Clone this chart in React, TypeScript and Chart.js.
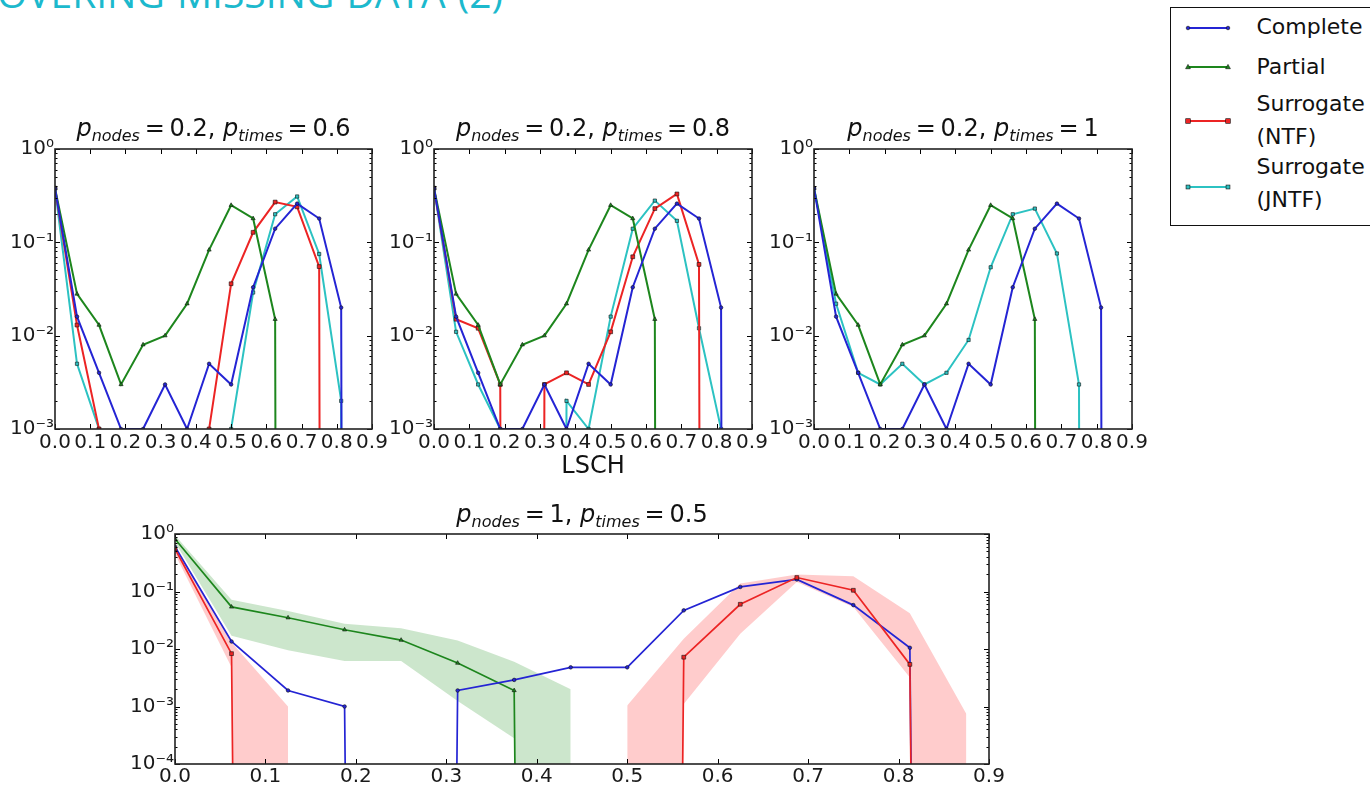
import React, { useEffect, useRef } from 'react';
import { Chart, registerables } from 'chart.js';

Chart.register(...registerables);
Chart.defaults.font.family = '"DejaVu Sans", sans-serif';

// ---------------- data ----------------
const LSCH_BINS = [0, 0.0625, 0.125, 0.1875, 0.25, 0.3125, 0.375, 0.4375, 0.5, 0.5625, 0.625, 0.6875, 0.75, 0.8125, 0.875];
const X_TICKS = [0, 0.1, 0.2, 0.3, 0.4, 0.5, 0.6, 0.7, 0.8, 0.9];
const X_TICK_LABELS = ['0.0', '0.1', '0.2', '0.3', '0.4', '0.5', '0.6', '0.7', '0.8', '0.9'];
const Y_TICKS_TOP = [0.001, 0.01, 0.1, 1];
const Y_TICK_LABELS_TOP = ['10⁻³', '10⁻²', '10⁻¹', '10⁰'];
const Y_TICKS_BOTTOM = [0.0001, 0.001, 0.01, 0.1, 1];
const Y_TICK_LABELS_BOTTOM = ['10⁻⁴', '10⁻³', '10⁻²', '10⁻¹', '10⁰'];

const SERIES_NAMES = ['Complete', 'Partial', 'Surrogate\n(NTF)', 'Surrogate\n(JNTF)'];
const PANEL_P_NODES = ['0.2', '0.2', '0.2', '1'];
const PANEL_P_TIMES = ['0.6', '0.8', '1', '0.5'];
const X_AXIS_TITLE = 'LSCH';
const PAGE_TITLE = 'RECOVERING MISSING DATA (2)';

// top row (0 = empty bin)
const COMPLETE_TOP = [0.38, 0.016, 0.004, 0.001, 0.001, 0.003, 0.001, 0.005, 0.003, 0.033, 0.14, 0.26, 0.18, 0.02, 0];
const PARTIAL_TOP = [0.38, 0.028, 0.013, 0.003, 0.008, 0.01, 0.022, 0.083, 0.25, 0.18, 0.015, 0, 0, 0, 0];
const NTF_T06 = [0.38, 0.013, 0.001, 0, 0, 0, 0, 0.001, 0.036, 0.128, 0.27, 0.24, 0.055, 0, 0];
const JNTF_T06 = [0.38, 0.005, 0.001, 0, 0, 0, 0, 0, 0.001, 0.029, 0.2, 0.31, 0.075, 0.002, 0];
const NTF_T08 = [0.38, 0.015, 0.012, 0.003, 0, 0.003, 0.004, 0.003, 0.011, 0.07, 0.23, 0.33, 0.058, 0, 0];
const JNTF_T08 = [0.38, 0.011, 0.003, 0.001, 0, 0, 0.002, 0.001, 0.016, 0.14, 0.28, 0.17, 0.012, 0.001, 0];
const JNTF_T10 = [0.38, 0.022, 0.004, 0.003, 0.005, 0.003, 0.004, 0.009, 0.054, 0.2, 0.23, 0.076, 0.003, 0, 0];

// bottom panel
const COMPLETE_BOTTOM = [0.6, 0.0135, 0.0019, 0.001, 0, 0.0019, 0.0029, 0.0048, 0.0048, 0.047, 0.12, 0.162, 0.058, 0.0105, 0];
const PARTIAL_BOTTOM = [0.82, 0.054, 0.035, 0.0216, 0.0143, 0.0057, 0.0019, 0, 0, 0, 0, 0, 0, 0, 0];
const PARTIAL_BOTTOM_HIGH = [0.95, 0.072, 0.046, 0.0275, 0.023, 0.014, 0.006, 0.002, null, null, null, null, null, null, null];
const PARTIAL_BOTTOM_LOW = [0.72, 0.017, 0.0095, 0.0062, 0.0062, 0.00125, 0.00028, 0, null, null, null, null, null, null, null];
const NTF_BOTTOM = [0.55, 0.0083, 0, 0, 0, 0, 0, 0, 0, 0.0072, 0.06, 0.175, 0.105, 0.0054, 0];
const NTF_BOTTOM_HIGH = [0.65, 0.013, 0.001, null, null, null, null, null, 0.00104, 0.015, 0.138, 0.198, 0.185, 0.042, 0.00074];
const NTF_BOTTOM_LOW = [0.45, 0.0048, 0, null, null, null, null, null, 0, 0.0011, 0.0185, 0.147, 0.054, 0.0032, 0];

// ---------------- styles ----------------
const LOG_ZERO = 1e-100; // stand-in for an empty bin on the log axis
const STYLES = [
  { color: '#2424d4', pointStyle: 'circle', radius: 1.8 },
  { color: '#1d861d', pointStyle: 'triangle', radius: 2.4 },
  { color: '#ec2424', pointStyle: 'rect', radius: 2.7 },
  { color: '#2cc2c2', pointStyle: 'rect', radius: 2.3 },
];
const GREEN_BAND = 'rgba(0,128,0,0.2)';
const RED_BAND = 'rgba(255,0,0,0.2)';

const toPoints = (values: (number | null)[]) =>
  LSCH_BINS.map((x, i) => ({ x, y: values[i] == null ? null : values[i]! > 0 ? values[i] : LOG_ZERO }));

function lineDataset(seriesIndex: number, values: (number | null)[], width = 2) {
  const s = STYLES[seriesIndex];
  return {
    label: SERIES_NAMES[seriesIndex],
    data: toPoints(values),
    borderColor: s.color,
    borderWidth: width,
    pointStyle: s.pointStyle,
    pointRadius: s.radius,
    pointBackgroundColor: s.color,
    pointBorderColor: '#111',
    pointBorderWidth: 0.6,
    fill: false,
    tension: 0,
  };
}

function bandDatasets(high: (number | null)[], low: (number | null)[], color: string) {
  return [
    { label: 'band-high', data: toPoints(high), borderColor: 'rgba(0,0,0,0)', borderWidth: 0, pointRadius: 0, fill: '+1', backgroundColor: color, tension: 0 },
    { label: 'band-low', data: toPoints(low), borderColor: 'rgba(0,0,0,0)', borderWidth: 0, pointRadius: 0, fill: false, tension: 0 },
  ];
}

const YW = 55; // y axis width
const PR = 26; // right padding

const PANELS = [
  {
    plot: { left: 55, top: 149, right: 372, bottom: 429 }, canvasTop: 100, xAxisHeight: 50, titleBaseline: 136,
    yMin: 0.001, yTicks: Y_TICKS_TOP, yLabels: Y_TICK_LABELS_TOP, xTitle: false, bottom: false,
    datasets: () => [lineDataset(0, COMPLETE_TOP), lineDataset(1, PARTIAL_TOP), lineDataset(2, NTF_T06), lineDataset(3, JNTF_T06)],
  },
  {
    plot: { left: 434, top: 149, right: 752, bottom: 429 }, canvasTop: 100, xAxisHeight: 50, titleBaseline: 136,
    yMin: 0.001, yTicks: Y_TICKS_TOP, yLabels: Y_TICK_LABELS_TOP, xTitle: true, bottom: false,
    datasets: () => [lineDataset(0, COMPLETE_TOP), lineDataset(1, PARTIAL_TOP), lineDataset(2, NTF_T08), lineDataset(3, JNTF_T08)],
  },
  {
    plot: { left: 814, top: 149, right: 1132, bottom: 429 }, canvasTop: 100, xAxisHeight: 50, titleBaseline: 136,
    yMin: 0.001, yTicks: Y_TICKS_TOP, yLabels: Y_TICK_LABELS_TOP, xTitle: false, bottom: false,
    datasets: () => [lineDataset(0, COMPLETE_TOP), lineDataset(1, PARTIAL_TOP), lineDataset(3, JNTF_T10)],
  },
  {
    plot: { left: 175, top: 534, right: 989, bottom: 764 }, canvasTop: 480, xAxisHeight: 21, titleBaseline: 522,
    yMin: 0.0001, yTicks: Y_TICKS_BOTTOM, yLabels: Y_TICK_LABELS_BOTTOM, xTitle: false, bottom: true,
    datasets: () => [
      lineDataset(2, NTF_BOTTOM, 1.7),
      lineDataset(0, COMPLETE_BOTTOM, 1.7),
      lineDataset(1, PARTIAL_BOTTOM, 1.7),
      ...bandDatasets(NTF_BOTTOM_HIGH, NTF_BOTTOM_LOW, RED_BAND),
      ...bandDatasets(PARTIAL_BOTTOM_HIGH, PARTIAL_BOTTOM_LOW, GREEN_BAND),
    ],
  },
];

function drawMathTitle(ctx: CanvasRenderingContext2D, cx: number, baseline: number, size: number, nodes: string, times: string) {
  const fam = '"DejaVu Sans", sans-serif';
  const sub = Math.round(size * 0.68);
  const parts = [
    { t: 'p', f: `italic ${size}px ${fam}`, dy: 0 },
    { t: 'nodes', f: `italic ${sub}px ${fam}`, dy: size * 0.2 },
    { t: '\u2009=\u2009' + nodes + ', ', f: `${size}px ${fam}`, dy: 0 },
    { t: 'p', f: `italic ${size}px ${fam}`, dy: 0 },
    { t: 'times', f: `italic ${sub}px ${fam}`, dy: size * 0.2 },
    { t: '\u2009=\u2009' + times, f: `${size}px ${fam}`, dy: 0 },
  ];
  let total = 0;
  const widths = parts.map((p) => {
    ctx.font = p.f;
    const w = ctx.measureText(p.t).width;
    total += w;
    return w;
  });
  let x = cx - total / 2;
  ctx.fillStyle = '#111';
  ctx.textAlign = 'left';
  ctx.textBaseline = 'alphabetic';
  parts.forEach((p, i) => {
    ctx.font = p.f;
    ctx.fillText(p.t, x, baseline + p.dy);
    x += widths[i];
  });
}

const framePlugin = {
  id: 'frame',
  afterDraw(chart: any, _args: any, opts: any) {
    const { ctx, chartArea: a, scales } = chart;
    ctx.save();
    ctx.strokeStyle = '#000';
    ctx.lineWidth = 1;
    const seg = (x1: number, y1: number, x2: number, y2: number) => {
      ctx.beginPath();
      ctx.moveTo(x1, y1);
      ctx.lineTo(x2, y2);
      ctx.stroke();
    };
    for (const v of X_TICKS) {
      const px = Math.round(scales.x.getPixelForValue(v)) + 0.5;
      seg(px, a.bottom, px, a.bottom - 5);
      seg(px, a.top, px, a.top + 5);
    }
    for (const v of opts.yTicks) {
      const py = Math.round(scales.y.getPixelForValue(v)) + 0.5;
      seg(a.left, py, a.left + 5, py);
      seg(a.right, py, a.right - 5, py);
      if (v < 1) {
        for (let m = 2; m <= 9; m++) {
          const pm = Math.round(scales.y.getPixelForValue(v * m)) + 0.5;
          seg(a.left, pm, a.left + 2.5, pm);
          seg(a.right, pm, a.right - 2.5, pm);
        }
      }
    }
    ctx.lineWidth = 1.6;
    ctx.strokeStyle = '#222';
    ctx.strokeRect(a.left, a.top, a.right - a.left, a.bottom - a.top);
    drawMathTitle(ctx, (a.left + a.right) / 2, opts.titleY, opts.titleSize, opts.nodes, opts.times);
    if (opts.xTitle) {
      ctx.font = '24px "DejaVu Sans", sans-serif';
      ctx.fillStyle = '#111';
      ctx.textAlign = 'center';
      ctx.textBaseline = 'alphabetic';
      ctx.fillText(X_AXIS_TITLE, (a.left + a.right) / 2, opts.xTitleY);
    }
    ctx.restore();
  },
};

function Panel({ index }: { index: number }) {
  const panel = PANELS[index];
  const ref = useRef<HTMLCanvasElement>(null);
  const left = panel.plot.left - YW;
  const width = panel.plot.right - panel.plot.left + YW + PR;
  const height = panel.plot.bottom - panel.canvasTop + panel.xAxisHeight;
  useEffect(() => {
    const findLabel = (ticks: number[], labels: string[], v: number) => {
      const i = ticks.findIndex((t) => Math.abs(t - v) < 1e-9 || Math.abs(Math.log10(t) - Math.log10(v)) < 1e-6);
      return i >= 0 ? labels[i] : '';
    };
    const chart = new Chart(ref.current!, {
      type: 'line',
      data: { datasets: panel.datasets() as any },
      options: {
        animation: false,
        responsive: false,
        maintainAspectRatio: false,
        layout: { padding: { top: panel.plot.top - panel.canvasTop, right: PR, bottom: 0, left: 0 } },
        plugins: {
          legend: { display: false },
          tooltip: { enabled: false },
          title: { display: false },
          frame: {
            yTicks: panel.yTicks,
            titleY: panel.titleBaseline - panel.canvasTop,
            titleSize: 24,
            nodes: PANEL_P_NODES[index],
            times: PANEL_P_TIMES[index],
            xTitle: panel.xTitle,
            xTitleY: 473 - panel.canvasTop,
          },
        } as any,
        scales: {
          x: {
            type: 'linear',
            min: 0,
            max: 0.9,
            afterBuildTicks: (s: any) => {
              s.ticks = X_TICKS.map((v) => ({ value: v }));
            },
            afterFit: (s: any) => {
              s.height = panel.xAxisHeight;
            },
            ticks: {
              autoSkip: false,
              maxRotation: 0,
              minRotation: 0,
              padding: panel.bottom ? 1 : 2,
              color: '#1a1a1a',
              font: { size: 20 },
              callback: (v: any) => findLabel(X_TICKS.map((t) => t + 1), X_TICK_LABELS, Number(v) + 1),
            },
            grid: { display: false, drawTicks: false },
            border: { display: false },
          },
          y: {
            type: 'logarithmic',
            min: panel.yMin,
            max: 1,
            afterBuildTicks: (s: any) => {
              s.ticks = panel.yTicks.map((v) => ({ value: v }));
            },
            afterFit: (s: any) => {
              s.width = YW;
            },
            ticks: {
              autoSkip: false,
              padding: 1,
              color: '#1a1a1a',
              font: { size: 20 },
              callback: (v: any) => findLabel(panel.yTicks, panel.yLabels, Number(v)),
            },
            grid: { display: false, drawTicks: false },
            border: { display: false },
          },
        },
      } as any,
      plugins: [framePlugin as any],
    });
    return () => chart.destroy();
  }, []);
  return (
    <canvas
      ref={ref}
      width={width}
      height={height}
      style={{ position: 'absolute', left, top: panel.canvasTop, width, height }}
    />
  );
}

function LegendSample({ s }: { s: { color: string; pointStyle: string; radius: number } }) {
  const y = 7;
  const x0 = 3;
  const x1 = 43;
  const marker = (cx: number) => {
    if (s.pointStyle === 'circle') return <circle cx={cx} cy={y} r={1.8} fill={s.color} stroke="#111" strokeWidth={0.6} />;
    if (s.pointStyle === 'triangle')
      return <polygon points={`${cx},${y - 2.6} ${cx - 2.4},${y + 1.7} ${cx + 2.4},${y + 1.7}`} fill={s.color} stroke="#111" strokeWidth={0.6} />;
    const w = s.radius * 1.7;
    return <rect x={cx - w / 2} y={y - w / 2} width={w} height={w} fill={s.color} stroke="#111" strokeWidth={0.6} />;
  };
  return (
    <svg width={46} height={14} style={{ display: 'block' }}>
      <line x1={x0} y1={y} x2={x1} y2={y} stroke={s.color} strokeWidth={2} />
      {marker(x0)}
      {marker(x1)}
    </svg>
  );
}

const LEGEND_LINE_Y = [28, 67, 121, 187];
const LEGEND_TEXT_Y = [27, 67, 120, 183];

function Legend() {
  const boxTop = 7;
  return (
    <div
      style={{
        position: 'absolute',
        left: 1170,
        top: boxTop,
        width: 220,
        height: 219,
        border: '1.5px solid #111',
        boxSizing: 'border-box',
        background: '#fff',
      }}
    >
      {SERIES_NAMES.map((name, i) => {
        const lines = name.split('\n').length;
        const lh = 33;
        return (
          <React.Fragment key={name}>
            <div style={{ position: 'absolute', left: 1185 - 1170 - 1.5, top: LEGEND_LINE_Y[i] - boxTop - 1.5 - 7 }}>
              <LegendSample s={STYLES[i]} />
            </div>
            <div
              style={{
                position: 'absolute',
                left: 1257 - 1170 - 1.5,
                top: LEGEND_TEXT_Y[i] - boxTop - 1.5 - (lines * lh) / 2,
                font: '22px "DejaVu Sans", sans-serif',
                lineHeight: lh + 'px',
                color: '#111',
                whiteSpace: 'pre',
              }}
            >
              {name}
            </div>
          </React.Fragment>
        );
      })}
    </div>
  );
}

export default function App() {
  return (
    <div
      style={{
        position: 'absolute',
        left: 0,
        top: 0,
        width: 1370,
        height: 785,
        overflow: 'hidden',
        background: '#fff',
      }}
    >
      <div
        style={{
          position: 'absolute',
          right: 1370 - 503,
          top: -27,
          font: '39px "Open Sans", sans-serif',
          lineHeight: '1',
          color: '#1cb9cd',
          whiteSpace: 'nowrap',
          wordSpacing: '2px',
        }}
      >
        {PAGE_TITLE}
      </div>
      {PANELS.map((_, i) => (
        <Panel key={i} index={i} />
      ))}
      <Legend />
    </div>
  );
}
